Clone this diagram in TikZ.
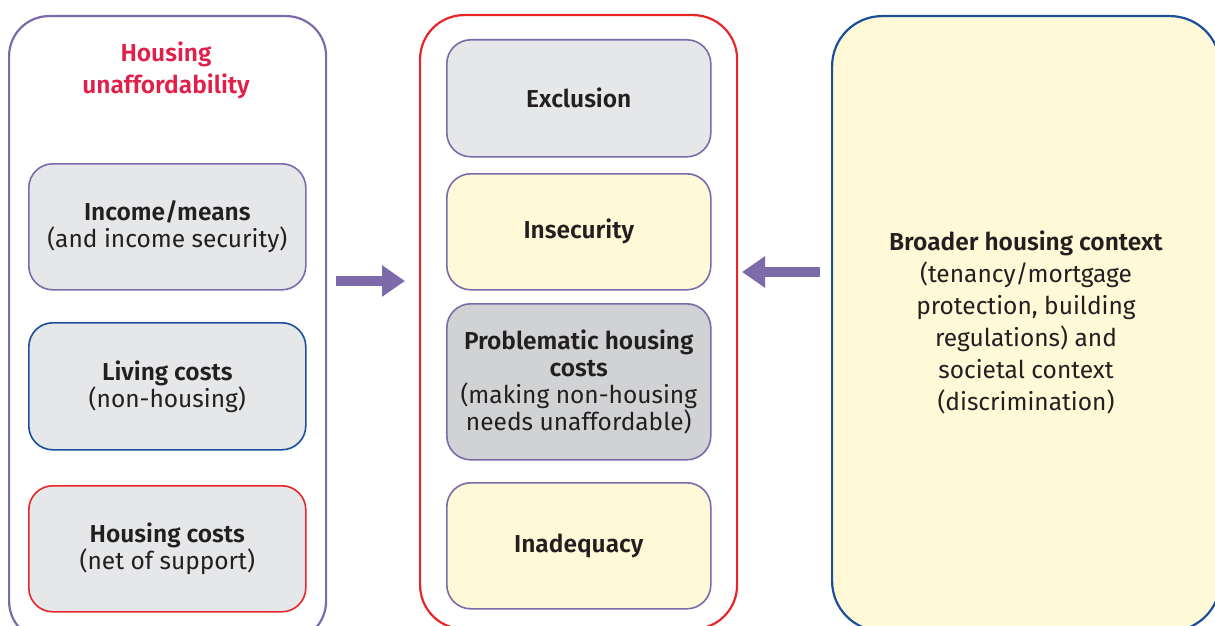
\documentclass[tikz,border=0pt]{standalone}
\usepackage{fontspec}
\setmainfont{Fira Sans}[BoldFont={Fira Sans SemiBold}]
\usetikzlibrary{arrows.meta}
\definecolor{purp}{HTML}{7D6AAB}
\definecolor{bluec}{HTML}{1B4F9C}
\definecolor{redc}{HTML}{E8262A}
\definecolor{crim}{HTML}{E0204A}
\definecolor{lgray}{HTML}{E6E7E8}
\definecolor{dgray}{HTML}{D1D2D4}
\definecolor{lyel}{HTML}{FFF9D7}
\definecolor{txt}{HTML}{231F20}
\tikzset{
  outerbox/.style={draw, line width=2.2pt, inner sep=0pt, anchor=north west},
  innerbox/.style={draw, line width=1.6pt, rounded corners=24pt, anchor=north west,
    align=center, text=txt, inner sep=4pt, font=\fontsize{24.5}{27}\selectfont},
  bigarrow/.style={draw=purp, line width=10pt, -{Triangle[length=23pt,width=30pt]}}
}
\begin{document}
\begin{tikzpicture}[x=1pt,y=-1pt]
\useasboundingbox (0,0) rectangle (1215,626);
\clip (0,0) rectangle (1215,626);
% left column
\node[outerbox, draw=purp, rounded corners=40pt, minimum width=317pt, minimum height=625pt] (L) at (8,15) {};
\node[text=crim, align=center, font=\fontsize{24.5}{32}\selectfont\bfseries] (title) at (166,70) {Housing\\unaffordability};
\node[innerbox, draw=purp, fill=lgray, minimum width=277pt, minimum height=126pt] (inc) at (28,163) {\textbf{Income/means}\\(and income security)};
\node[innerbox, draw=bluec, fill=lgray, minimum width=277pt, minimum height=127pt] (liv) at (28,322) {\textbf{Living costs}\\(non-housing)};
\node[innerbox, draw=redc, fill=lgray, minimum width=277pt, minimum height=126pt] (hou) at (28,485) {\textbf{Housing costs}\\(net of support)};
% middle column
\node[outerbox, draw=redc, rounded corners=44pt, minimum width=317pt, minimum height=614pt] (M) at (419,14) {};
\node[innerbox, draw=purp, fill=lgray, minimum width=264pt, minimum height=117pt] (excl) at (446,39) {\textbf{Exclusion}};
\node[innerbox, draw=purp, fill=lyel, minimum width=264pt, minimum height=116pt] (insec) at (446,173) {\textbf{Insecurity}};
\node[innerbox, draw=purp, fill=dgray, minimum width=264pt, minimum height=156pt] (prob) at (446,303) {\textbf{Problematic housing}\\\textbf{costs}\\(making non-housing\\needs unaffordable)};
\node[innerbox, draw=purp, fill=lyel, minimum width=264pt, minimum height=126pt] (inad) at (446,482) {\textbf{Inadequacy}};
% right column
\node[outerbox, draw=bluec, fill=lyel, rounded corners=50pt, minimum width=388pt, minimum height=615pt] (R) at (831,15) {};
\node[align=center, text=txt, font=\fontsize{24.5}{32}\selectfont] (ctx) at (1026,322) {\textbf{Broader housing context}\\(tenancy/mortgage\\protection, building\\regulations) and\\societal context\\(discrimination)};
% arrows
\coordinate (a1s) at (336,281);
\coordinate (a1e) at (405,281);
\coordinate (a2s) at (820,272);
\coordinate (a2e) at (742,272);
\draw[bigarrow] (a1s) -- (a1e);
\draw[bigarrow] (a2s) -- (a2e);
\end{tikzpicture}
\end{document}
